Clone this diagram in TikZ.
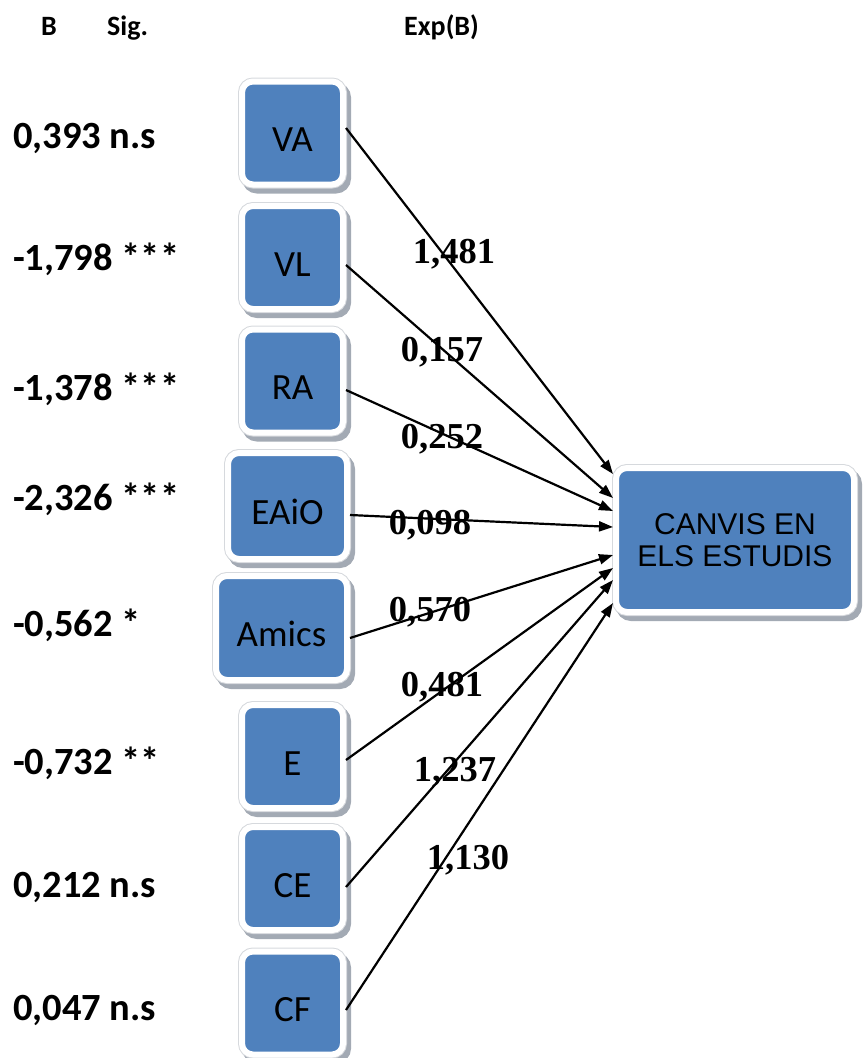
\documentclass[tikz,border=0pt]{standalone}
\usepackage{fontspec}
\setmainfont{Carlito}
\newfontfamily\expfont{Liberation Serif}
\newfontfamily\arialfont{Liberation Sans}
\usetikzlibrary{arrows.meta}

\definecolor{boxblue}{HTML}{4F81BD}
\definecolor{shadowgrey}{HTML}{A3AAB4}
\definecolor{rimgrey}{HTML}{D6D9DD}

\tikzset{
  vbox/.style={rounded corners=11pt, fill=boxblue, draw=white, line width=6pt,
    inner sep=0pt, minimum width=101pt, minimum height=103pt,
    text height=37pt, text depth=0pt,
    preaction={draw=shadowgrey, line width=8pt, transform canvas={shift={(4pt,-5pt)}}},
    preaction={draw=rimgrey, line width=8pt},
    font=\fontsize{37}{40}\selectfont},
  target/.style={vbox, minimum width=238pt, minimum height=144pt,
    text height=, text depth=, align=center,
    font=\arialfont\fontsize{30}{32}\selectfont},
  conn/.style={-{Triangle[length=14pt,width=10pt]}, line width=2.2pt, black},
  coef/.style={anchor=base west, inner sep=0pt, font=\bfseries\fontsize{38.5}{40}\selectfont},
  expval/.style={anchor=base, inner sep=0pt, font=\expfont\bfseries\fontsize{36.5}{38}\selectfont},
  head/.style={anchor=base west, inner sep=0pt, font=\bfseries\fontsize{28}{30}\selectfont}
}

\begin{document}
\begin{tikzpicture}[x=1pt,y=1pt]
\useasboundingbox (0,0) rectangle (863,-1058);

% column headings
\node[head] (hb) at (41,-35) {B};
\node[head] (hs) at (107,-35) {Sig.};
\node[head] (he) at (404,-35) {Exp(B)};

% predictor boxes
\node[vbox] (va) at (292.5,-133) {VA};
\node[vbox] (vl) at (292.5,-257.5) {VL};
\node[vbox] (ra) at (292.5,-381) {RA};
\node[vbox, minimum width=119pt, minimum height=106pt] (eaio) at (287.5,-506) {EAiO};
\node[vbox, minimum width=131pt, minimum height=104pt] (amics) at (281.5,-628) {Amics};
\node[vbox] (e) at (292.5,-756.5) {E};
\node[vbox] (ce) at (292.5,-878.5) {CE};
\node[vbox] (cf) at (292.5,-1003) {CF};

% outcome box
\node[target] (canvis) at (735,-540) {CANVIS EN\\ELS ESTUDIS};

% arrow tips on the left side of the outcome box
\coordinate (in1) at (613,-474);
\coordinate (in2) at (613,-498);
\coordinate (in3) at (613,-511);
\coordinate (in4) at (613,-527);
\coordinate (in5) at (613,-555);
\coordinate (in6) at (613,-568);
\coordinate (in7) at (613,-580);
\coordinate (in8) at (613,-603);

\draw[conn] ([yshift=5pt]va.east) -- (in1);
\draw[conn] ([yshift=-7.5pt]vl.east) -- (in2);
\draw[conn] ([yshift=-9pt]ra.east) -- (in3);
\draw[conn] ([yshift=-9pt]eaio.east) -- (in4);
\draw[conn] ([yshift=-10pt]amics.east) -- (in5);
\draw[conn] ([yshift=-3.5pt]e.east) -- (in6);
\draw[conn] ([yshift=-8.5pt]ce.east) -- (in7);
\draw[conn] ([yshift=-7pt]cf.east) -- (in8);

% B and significance
\node[coef] (b1) at (13,-148) {0,393 n.s};
\node[coef] (b2) at (13,-270) {-1,798 ***};
\node[coef] (b3) at (13,-400) {-1,378 ***};
\node[coef] (b4) at (13,-510) {-2,326 ***};
\node[coef] (b5) at (13,-636) {-0,562 *};
\node[coef] (b6) at (13,-774) {-0,732 **};
\node[coef] (b7) at (13,-897) {0,212 n.s};
\node[coef] (b8) at (13,-1020) {0,047 n.s};

% Exp(B) values
\node[expval] (x1) at (454,-263) {1,481};
\node[expval] (x2) at (442,-361) {0,157};
\node[expval] (x3) at (442,-448) {0,252};
\node[expval] (x4) at (430,-534) {0,098};
\node[expval] (x5) at (430,-621) {0,570};
\node[expval] (x6) at (442,-696) {0,481};
\node[expval] (x7) at (455,-781) {1,237};
\node[expval] (x8) at (468,-869) {1,130};
\end{tikzpicture}
\end{document}
